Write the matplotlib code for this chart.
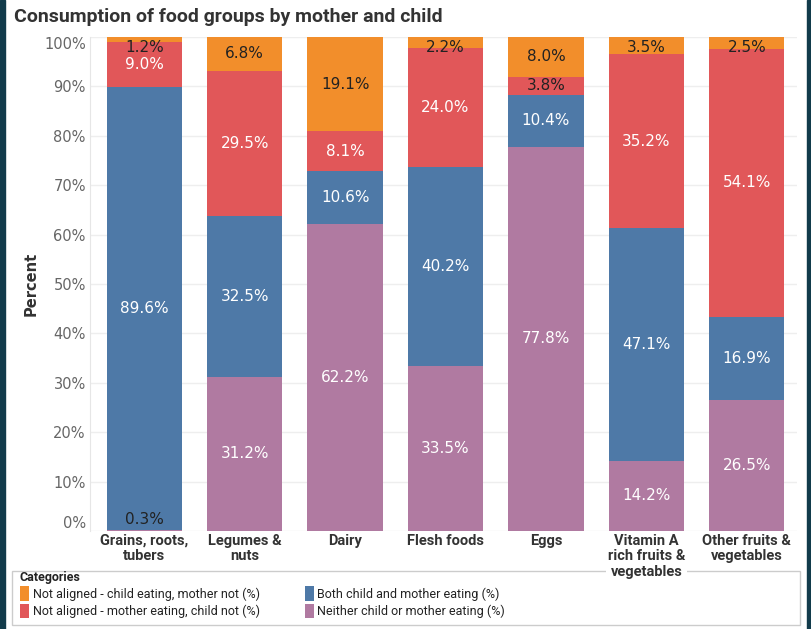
import numpy as np
import matplotlib.pyplot as plt
from matplotlib.patches import Rectangle

# categories / values (percent)
foods = ["Grains, roots,\ntubers", "Legumes &\nnuts", "Dairy", "Flesh foods", "Eggs",
         "Vitamin A\nrich fruits &\nvegetables", "Other fruits &\nvegetables"]
neither = [0.3, 31.2, 62.2, 33.5, 77.8, 14.2, 26.5]
both = [89.6, 32.5, 10.6, 40.2, 10.4, 47.1, 16.9]
mother_only = [9.0, 29.5, 8.1, 24.0, 3.8, 35.2, 54.1]
child_only = [1.2, 6.8, 19.1, 2.2, 8.0, 3.5, 2.5]

series = [
    ("Neither child or mother eating (%)", neither, "#B07AA1"),
    ("Both child and mother eating (%)", both, "#4E79A7"),
    ("Not aligned - mother eating, child not (%)", mother_only, "#E15759"),
    ("Not aligned - child eating, mother not (%)", child_only, "#F28E2B"),
]

narrow = ["Roboto", "DejaVu Sans"]

fig = plt.figure(figsize=(8.11, 6.29), dpi=100)
ax = fig.add_axes([90 / 811, 1 - 531 / 629, 707 / 811, 494 / 629])

x = np.arange(len(foods))
bottom = np.zeros(len(foods))
bars = {}
for name, vals, col in series:
    vals = np.array(vals)
    b = ax.bar(x, vals, width=0.75, bottom=bottom, color=col, label=name, zorder=2)
    bars[name] = b
    for xi, v, b0 in zip(x, vals, bottom):
        yc = b0 + v / 2
        yc = min(yc, 97.8)
        yc = max(yc, 2.4)
        dark = col == "#F28E2B" or v < 5
        ax.text(xi, yc, f"{v:.1f}%", ha="center", va="center", fontsize=11,
                color="#222222" if dark else "white", zorder=3)
    bottom = bottom + vals

ax.set_xlim(-0.54, 6.5)
ax.set_ylim(0, 100)
ax.set_yticks(np.arange(0, 101, 10))
ax.set_yticklabels([f"{t}%" for t in range(0, 101, 10)], fontsize=10.5, color="#666666")
ax.yaxis.grid(True, color="#eeeeee", lw=1, zorder=0)
ax.tick_params(axis="y", length=0, pad=3)
ax.tick_params(axis="x", length=0, pad=2)
ax.set_xticks(x)
ax.set_xticklabels(foods, family=narrow, fontweight="bold", fontsize=10.5, color="#333333",
                   va="top", linespacing=1.15)
for lab in ax.get_xticklabels():
    lab.set_bbox(dict(facecolor="white", edgecolor="none", pad=1))
ylabs = ax.get_yticklabels()
ylabs[0].set_va("bottom")
ylabs[-1].set_va("top")
for s in ["top", "right", "bottom"]:
    ax.spines[s].set_visible(False)
ax.spines["left"].set_color("#e6e6e6")
ax.set_ylabel("Percent", fontsize=10.5, fontweight="bold", color="#333333", labelpad=4)

fig.text(14 / 811, 1 - 17 / 629, "Consumption of food groups by mother and child",
         family=narrow, fontweight="bold", fontsize=14, color="#333333", va="center")

# legend
order = ["Not aligned - child eating, mother not (%)", "Not aligned - mother eating, child not (%)",
         "Both child and mother eating (%)", "Neither child or mother eating (%)"]
fig.text(20 / 811, 1 - 578 / 629, "Categories", family=narrow, fontweight="bold",
         fontsize=9, color="#222222", va="center")
leg = fig.legend([bars[n] for n in order], order, loc="upper left",
                 bbox_to_anchor=(14 / 811, 1 - 580 / 629), ncol=2, frameon=False,
                 prop={"family": narrow, "size": 9},
                 handlelength=0.7, handleheight=1.4, handletextpad=0.3,
                 columnspacing=3.6, labelspacing=0.25, borderpad=0.0)
for t in leg.get_texts():
    t.set_color("#222222")

fig.patches.append(Rectangle((12 / 811, 1 - 625 / 629), 788 / 811, 54 / 629,
                             transform=fig.transFigure, fill=False, edgecolor="#cccccc",
                             lw=1, zorder=-1))
# dark frame edges
fig.patches.append(Rectangle((0, 0), 5 / 811, 1, transform=fig.transFigure,
                             color="#123B4B", zorder=5))
fig.patches.append(Rectangle((807 / 811, 0), 4 / 811, 1, transform=fig.transFigure,
                             color="#123B4B", zorder=5))

fig.savefig("out.png", dpi=100)
